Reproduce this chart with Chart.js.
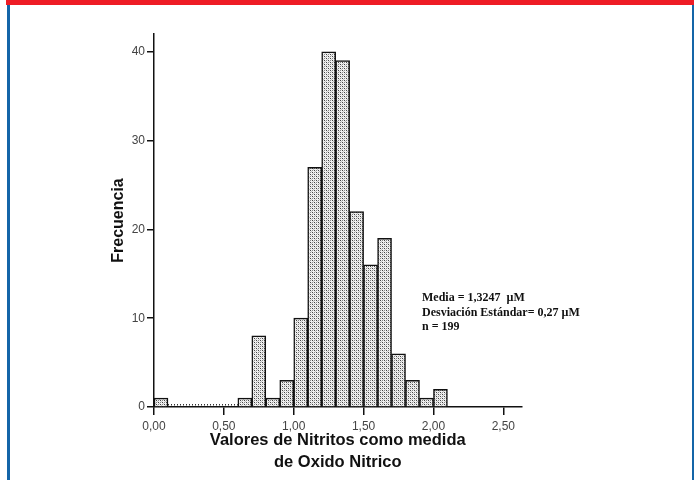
<!DOCTYPE html>
<html>
<head>
<meta charset="utf-8">
<script src="https://cdn.jsdelivr.net/npm/chart.js@4"></script>
<style>
  body { margin: 0; background: #fff; }
  #wrap { position: relative; width: 699px; height: 480px; overflow: hidden; }
  #redbar { position: absolute; left: 6px; top: 0; width: 688px; height: 5px; background: #ee1c25; }
  #lline { position: absolute; left: 7px; top: 5px; width: 2.5px; height: 475px; background: #1465a8; }
  #rline { position: absolute; left: 691.5px; top: 5px; width: 2.5px; height: 475px; background: #1465a8; }
  #stats { position: absolute; left: 422px; top: 290px; font: bold 12px "Liberation Serif", serif; line-height: 14.5px; color: #111; }
  canvas { position: absolute; left: 0; top: 0; }
</style>
</head>
<body>
<div id="wrap">
  <canvas id="chart" width="699" height="480"></canvas>
  <div id="redbar"></div>
  <div id="lline"></div>
  <div id="rline"></div>
  <div id="stats">Media = 1,3247&nbsp; µM<br>Desviación Estándar= 0,27 µM<br>n = 199</div>
</div>
<script>
// bins of 0,1 µM starting at 0,00
const binStarts = [0.0, 0.1, 0.2, 0.3, 0.4, 0.5, 0.6, 0.7, 0.8, 0.9, 1.0, 1.1, 1.2, 1.3, 1.4, 1.5, 1.6, 1.7, 1.8, 1.9, 2.0];
const counts    = [1,   0,   0,   0,   0,   0,   1,   8,   1,   3,   10,  27,  40,  39,  22,  16,  19,  6,   3,   1,   2];
const xTicks = [0, 0.5, 1.0, 1.5, 2.0, 2.5];
const xTickLabels = ['0,00', '0,50', '1,00', '1,50', '2,00', '2,50'];
const yTicks = [0, 10, 20, 30, 40];
const binWidth = 0.1;

function makeStipple(ctx) {
  const c = document.createElement('canvas');
  c.width = 4; c.height = 4;
  const p = c.getContext('2d');
  p.fillStyle = '#f0f0f0';
  p.fillRect(0, 0, 4, 4);
  p.fillStyle = '#444';
  p.fillRect(0, 0, 1, 1);
  p.fillRect(2, 2, 1, 1);
  p.fillStyle = '#888';
  p.fillRect(2, 0, 1, 1);
  p.fillRect(0, 2, 1, 1);
  p.fillStyle = '#c4c4c4';
  p.fillRect(1, 1, 1, 1);
  p.fillRect(3, 3, 1, 1);
  return ctx.createPattern(c, 'repeat');
}

let ctx = document.getElementById('chart').getContext('2d');

let barData = binStarts.map((s, i) => ({ x: s + binWidth / 2, y: counts[i] }));

// dotted line over the empty bins
let zeroLine = [];
binStarts.forEach((s, i) => {
  if (counts[i] === 0) {
    zeroLine.push({ x: s, y: 0.25 });
    zeroLine.push({ x: s + binWidth, y: 0.25 });
  }
});

new Chart(ctx, {
  type: 'bar',
  data: {
    datasets: [{
      type: 'bar',
      data: barData,
      backgroundColor: makeStipple(ctx),
      borderColor: '#111',
      borderWidth: 1.5,
      borderSkipped: 'bottom',
      barPercentage: 1,
      categoryPercentage: 1
    }, {
      type: 'line',
      data: zeroLine,
      borderColor: '#333',
      borderWidth: 1.5,
      borderDash: [1, 2],
      pointRadius: 0,
      fill: false
    }]
  },
  options: {
    responsive: false,
    animation: false,
    layout: { padding: { left: 105, right: 177.5, top: 34, bottom: 3 } },
    plugins: { legend: { display: false }, tooltip: { enabled: false } },
    scales: {
      x: {
        type: 'linear',
        min: 0,
        max: 2.63,
        offset: false,
        afterBuildTicks: s => { s.ticks = xTicks.map(v => ({ value: v })); },
        afterFit: s => { s.height = 70; },
        grid: { display: true, offset: false, drawOnChartArea: false, drawTicks: true, tickLength: 8, color: '#111', lineWidth: 1.5 },
        border: { display: true, color: '#111', width: 1.5 },
        ticks: {
          color: '#444',
          font: { family: 'Liberation Sans', size: 12 },
          padding: 4,
          maxRotation: 0,
          callback: (v, i) => xTickLabels[i]
        },
        title: {
          display: true,
          text: ['Valores de Nitritos como medida', 'de Oxido Nitrico'],
          color: '#111',
          font: { family: 'Liberation Sans', size: 16.5, weight: 'bold', lineHeight: 1.3 }
        }
      },
      y: {
        min: 0,
        max: 42,
        afterBuildTicks: s => { s.ticks = yTicks.map(v => ({ value: v })); },
        afterFit: s => { s.width = 49; },
        grid: { display: true, drawOnChartArea: false, drawTicks: true, tickLength: 7, color: '#111', lineWidth: 1.5 },
        border: { display: true, color: '#111', width: 1.5 },
        ticks: {
          color: '#444',
          font: { family: 'Liberation Sans', size: 12 },
          padding: 2
        },
        title: {
          display: true,
          text: 'Frecuencia',
          color: '#111',
          font: { family: 'Liberation Sans', size: 16, weight: 'bold' }
        }
      }
    }
  }
});
</script>
</body>
</html>
